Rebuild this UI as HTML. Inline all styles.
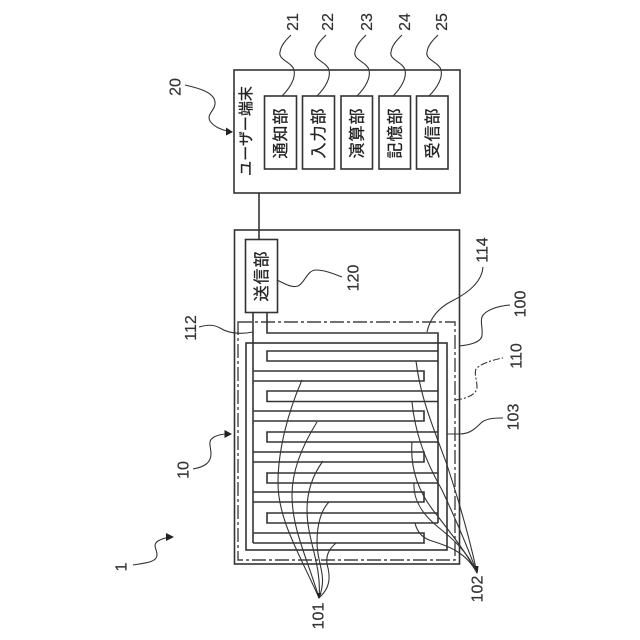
<!DOCTYPE html>
<html>
<head>
<meta charset="utf-8">
<style>
html,body{margin:0;padding:0;background:#fff;width:640px;height:640px;overflow:hidden}
svg{display:block}
.b{fill:none;stroke:#333;stroke-width:1.6}
.l{fill:none;stroke:#333;stroke-width:1.1}
.n{font-family:"Liberation Sans",sans-serif;font-size:16px;fill:#333;text-anchor:middle;stroke:#333;stroke-width:.2}
.j{font-family:"Liberation Sans","Noto Sans CJK JP",sans-serif;font-size:16px;letter-spacing:1px;fill:#222;text-anchor:middle;stroke:#222;stroke-width:.3}
</style>
</head>
<body>
<svg width="640" height="640" viewBox="0 0 640 640" xmlns="http://www.w3.org/2000/svg">
<rect width="640" height="640" fill="#fff"/>
<!-- terminal -->
<rect class="b" x="234" y="70" width="226" height="123"/>
<rect class="b" x="264.500" y="96" width="32" height="73"/>
<rect class="b" x="302.500" y="96" width="32" height="73"/>
<rect class="b" x="341" y="96" width="31.500" height="73"/>
<rect class="b" x="379" y="96" width="31.500" height="73"/>
<rect class="b" x="416.500" y="96" width="31.500" height="73"/>
<path class="b" d="M259 193V239"/>
<!-- device -->
<rect class="b" x="234.500" y="230" width="225" height="334"/>
<rect class="b" x="245.500" y="239.500" width="32" height="73" fill="#fff"/>
<rect fill="none" stroke="#444" stroke-width="1.4" stroke-dasharray="14 3 3 3" x="238" y="322" width="217" height="238"/>
<rect class="b" x="246" y="343" width="201" height="207"/>
<!-- right comb -->
<path class="b" d="M267 313V333H438V523"/>
<path class="b" d="M438 351H267V361H438M438 391H267V401.500H438M438 432H267V442H438M438 473H267V483H438M438 513H267V523H438"/>
<!-- left comb -->
<path class="b" d="M253 313V543"/>
<path class="b" d="M253 371H424V381H253M253 411H424V421H253M253 452H424V462H253M253 492H424V502H253M253 533H424V543H253"/>
<!-- leaders top -->
<g class="l">
<path d="M282 96C290 88 296 78 294 70C292 62 278 60 280 52C281 45 286 40 291 35"/>
<path d="M317 96C325 88 331 78 329 70C327 62 313 60 315 52C316 45 321 40 326 35"/>
<path d="M357 96C365 88 371 78 369 70C367 62 353 60 355 52C356 45 361 40 366 35"/>
<path d="M393 96C401 88 407 78 405 70C403 62 389 60 391 52C392 45 397 40 402 35"/>
<path d="M429 96C437 88 443 78 441 70C439 62 425 60 427 52C428 45 433 40 438 35"/>
<path d="M185 85C198 88 214 92 215 102C216 110 206 114 210 121C214 127 222 130 228 131"/>
<path d="M193 469C204 467 211 463 211 454C211 446 207 441 214 437C218 435 223 434 227 434"/>
<path d="M133 565C146 563 157 562 157 555C157 549 152 545 158 541C161 539 165 538 169 537"/>
<path d="M277 280C285 284 292 288 298 286C305 283 307 270 316 270C325 270 334 274 342 277"/>
<path d="M199 327C206 325 213 324 220 328C228 333 238 335 253 332"/>
<path d="M427 332C430 318 438 308 452 301C468 293 482 282 483 267"/>
<path d="M459 346C470 345 482 342 482 335C483 328 480 322 482 317C485 310 498 306 510 305"/>
<path stroke-dasharray="7 2 2 2" d="M455 400C465 399 477 395 477 387C477 380 474 374 476 369C480 364 492 360 503 358"/>
<path d="M447 434H460C470 434 476 428 482 422C488 418 496 418 503 418"/>
<!-- 101 -->
<path d="M302 380C288 412 278 450 278 483C278 520 300 555 319 598"/>
<path d="M317 422C302 446 292 470 292 495C292 530 308 560 319 598"/>
<path d="M323 461C312 476 307 492 307 510C307 540 322 565 319 598"/>
<path d="M329 502C321 510 317 525 317 542C317 565 328 575 319 598"/>
<path d="M336 543C328 550 326 556 327 564C331 578 330 588 319 598"/>
<!-- 102 -->
<path d="M416 361C420 395 432 425 446 462C458 498 470 540 477 573"/>
<path d="M412 402C415 432 424 458 442 490C456 520 468 548 477 573"/>
<path d="M412 442C410 468 418 492 436 514C450 532 466 552 477 573"/>
<path d="M414 483C413 500 422 514 438 527C452 538 468 552 477 573"/>
<path d="M415 523C417 532 422 538 432 541C448 546 466 552 477 573"/>
</g>
<!-- arrowheads -->
<g fill="#222">
<path d="M233 132L226 127.500L226 135.500Z"/>
<path d="M232 434L224.500 430L224.500 438Z"/>
<path d="M174 537L166 533L166 541Z"/>
<path d="M319 599L316.500 593L321.500 593Z"/>
<path d="M477.500 574L474.500 566L478.500 566Z"/>
</g>
<!-- labels -->
<g class="n">
<text transform="translate(298,22) rotate(-90)">21</text>
<text transform="translate(333,22) rotate(-90)">22</text>
<text transform="translate(372,22) rotate(-90)">23</text>
<text transform="translate(410,22) rotate(-90)">24</text>
<text transform="translate(447,22) rotate(-90)">25</text>
<text transform="translate(180.500,87) rotate(-90)">20</text>
<text transform="translate(358.500,278) rotate(-90)">120</text>
<text transform="translate(196,328) rotate(-90)">112</text>
<text transform="translate(487.500,250) rotate(-90)">114</text>
<text transform="translate(525.500,304) rotate(-90)">100</text>
<text transform="translate(521.500,356) rotate(-90)">110</text>
<text transform="translate(518.500,417) rotate(-90)">103</text>
<text transform="translate(188.500,470) rotate(-90)">10</text>
<text transform="translate(126.500,567) rotate(-90)">1</text>
<text transform="translate(323.500,616) rotate(-90)">101</text>
<text transform="translate(482.500,589) rotate(-90)">102</text>
</g>
<g class="j">
<text transform="translate(286,133) rotate(-90)">通知部</text>
<text transform="translate(324,133) rotate(-90)">入力部</text>
<text transform="translate(362.500,133) rotate(-90)">演算部</text>
<text transform="translate(400.500,133) rotate(-90)">記憶部</text>
<text transform="translate(438,133) rotate(-90)">受信部</text>
<text transform="translate(267,276) rotate(-90)">送信部</text>
<text transform="translate(251,131) rotate(-90)" style="font-size:15px;letter-spacing:0">ユーザー端末</text>
</g>
</svg>
</body>
</html>
